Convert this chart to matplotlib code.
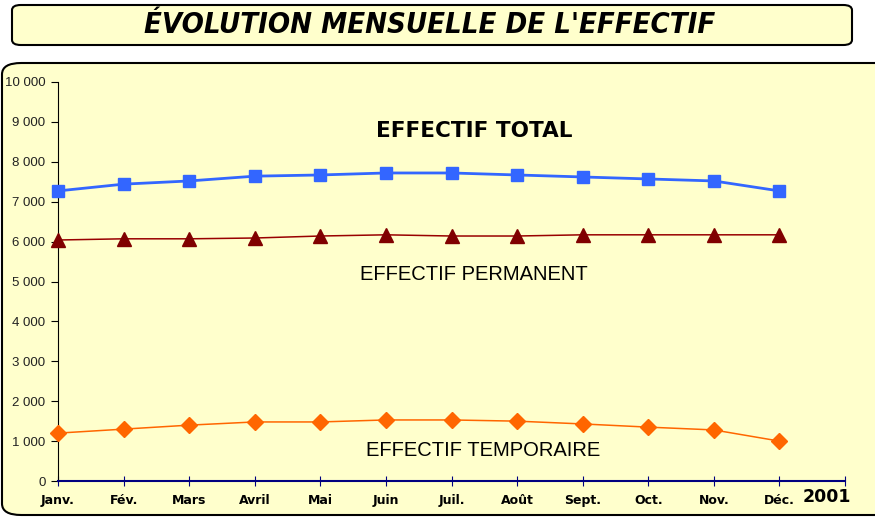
import numpy as np
import matplotlib
matplotlib.use("Agg")
from matplotlib import pyplot as plt
from matplotlib.patches import FancyBboxPatch
from matplotlib.ticker import FuncFormatter

# Data
months = ['Janv.', 'Fév.', 'Mars', 'Avril', 'Mai', 'Juin',
          'Juil.', 'Août', 'Sept.', 'Oct.', 'Nov.', 'Déc.']
total = [7270, 7440, 7520, 7640, 7670, 7720, 7720, 7670, 7620, 7570, 7520, 7270]
permanent = [6040, 6070, 6070, 6090, 6140, 6170, 6140, 6140, 6170, 6170, 6170, 6170]
temporaire = [1200, 1300, 1400, 1480, 1480, 1530, 1530, 1500, 1430, 1350, 1280, 1000]

BG = '#FFFFCC'
W, H = 875, 517

fig = plt.figure(figsize=(8.75, 5.17), dpi=100)
fig.patch.set_facecolor('white')

# Title box
fig.patches.append(FancyBboxPatch((12 / W, 1 - 45 / H), 840 / W, 40 / H,
                                  boxstyle='round,pad=0,rounding_size=0.01',
                                  transform=fig.transFigure, facecolor=BG,
                                  edgecolor='black', linewidth=1.5, zorder=-2))
fig.text(430 / W, 1 - 25 / H, "ÉVOLUTION MENSUELLE DE L'EFFECTIF",
         ha='center', va='center', fontsize=21, fontweight='heavy',
         fontstyle='italic', family='DejaVu Sans', stretch='condensed')

# Chart panel
fig.patches.append(FancyBboxPatch((2 / W, 2 / H), 900 / W, (H - 65) / H,
                                  boxstyle='round,pad=0,rounding_size=0.022',
                                  transform=fig.transFigure, facecolor=BG,
                                  edgecolor='black', linewidth=1.5, zorder=-2))

ax = fig.add_axes([58 / W, 36 / H, (845 - 58) / W, (481 - 82) / H])
ax.set_facecolor('none')

x = np.arange(len(months))
ax.plot(x, total, color='#3366FF', linewidth=2, marker='s', markersize=8.5,
        clip_on=False, zorder=3)
ax.plot(x, permanent, color='#990000', linewidth=1.1, marker='^', markersize=10,
        markerfacecolor='#800000', markeredgecolor='#800000', clip_on=False, zorder=3)
ax.plot(x, temporaire, color='#FF6600', linewidth=1.1, marker='D', markersize=8.5,
        clip_on=False, zorder=3)

ax.set_xlim(0, 12)
ax.set_ylim(0, 10000)
ax.set_xticks(np.arange(13))
ax.set_xticklabels(months + [''], fontsize=9, fontweight='bold')
ax.yaxis.set_major_formatter(FuncFormatter(lambda v, p: f"{int(v):,}".replace(',', ' ')))
ax.set_yticks(np.arange(0, 10001, 1000))
ax.tick_params(axis='y', labelsize=9.5, labelcolor='#222222', direction='out',
               length=5, color='black', pad=4)
for lab in ax.get_yticklabels():
    lab.set_family('Liberation Sans')
ax.tick_params(axis='x', direction='inout', length=7, color='#000080', pad=6)

for s in ['top', 'right']:
    ax.spines[s].set_visible(False)
ax.spines['left'].set_color('black')
ax.spines['bottom'].set_color('#000080')
ax.spines['bottom'].set_linewidth(1.5)
ax.spines['bottom'].set_zorder(4)

fig.text(474 / W, 1 - 131 / H, 'EFFECTIF TOTAL', ha='center', va='center',
         fontsize=15.5, fontweight='bold', family='DejaVu Sans')
fig.text(474 / W, 1 - 274 / H, 'EFFECTIF PERMANENT', ha='center', va='center',
         fontsize=14.5, family='Liberation Sans')
fig.text(483 / W, 1 - 451 / H, 'EFFECTIF TEMPORAIRE', ha='center', va='center',
         fontsize=14.5, family='Liberation Sans')
fig.text(827 / W, 1 - 497 / H, '2001', ha='center', va='center',
         fontsize=12.5, fontweight='heavy')

fig.savefig('out.png', dpi=100, facecolor=fig.get_facecolor())
